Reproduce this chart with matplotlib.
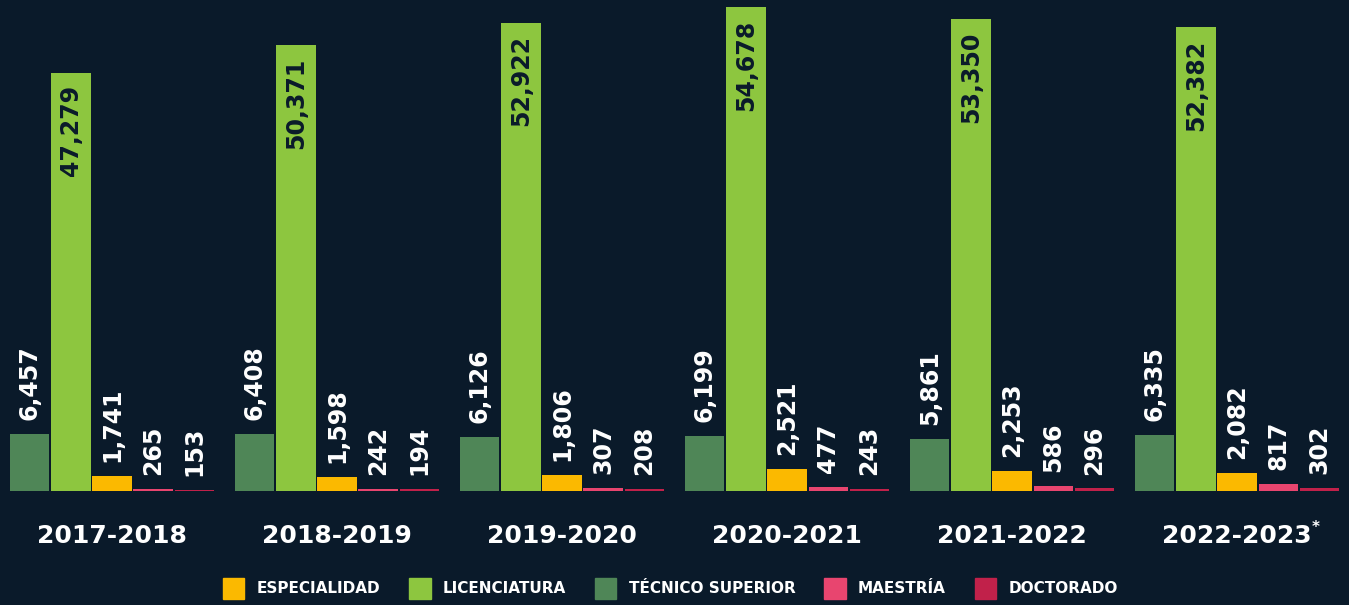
# Matrícula por nivel educativo, ciclos 2017-2018 a 2022-2023

import matplotlib.pyplot as plt
from matplotlib.patches import Patch
import numpy as np

ciclos = ['2017-2018', '2018-2019', '2019-2020', '2020-2021', '2021-2022', '2022-2023']
tecnico = [6457, 6408, 6126, 6199, 5861, 6335]
licenciatura = [47279, 50371, 52922, 54678, 53350, 52382]
especialidad = [1741, 1598, 1806, 2521, 2253, 2082]
maestria = [265, 242, 307, 477, 586, 817]
doctorado = [153, 194, 208, 243, 296, 302]

fondo = '#0a1a2a'
colores = {
    'ESPECIALIDAD': '#fbb900',
    'LICENCIATURA': '#8dc63f',
    'TÉCNICO SUPERIOR': '#4f8657',
    'MAESTRÍA': '#e8456f',
    'DOCTORADO': '#c1214a',
}

# orden de las barras dentro de cada grupo
series = [
    (tecnico, 'TÉCNICO SUPERIOR'),
    (licenciatura, 'LICENCIATURA'),
    (especialidad, 'ESPECIALIDAD'),
    (maestria, 'MAESTRÍA'),
    (doctorado, 'DOCTORADO'),
]

fig = plt.figure(figsize=(13.49, 6.05), dpi=100, facecolor=fondo)
ax = fig.add_axes([0, 0.1884, 1, 0.8116])
ax.set_facecolor(fondo)

paso = 5.461
centros = np.arange(len(ciclos)) * paso

for j, (valores, nombre) in enumerate(series):
    xs = centros + (j - 2)
    barras = ax.bar(xs, valores, width=0.96, color=colores[nombre], zorder=2)
    for b, v in zip(barras, valores):
        x = b.get_x() + b.get_width() / 2
        if nombre == 'LICENCIATURA':
            ax.annotate(f'{v:,}', (x, v), xytext=(0, -9), textcoords='offset points',
                        rotation=90, ha='center', va='top', color=fondo,
                        fontsize=17, fontweight='bold')
        else:
            ax.annotate(f'{v:,}', (x, v), xytext=(0, 10), textcoords='offset points',
                        rotation=90, ha='center', va='bottom', color='white',
                        fontsize=17, fontweight='bold')

ax.set_xlim(-2.718, 30.02)
ax.set_ylim(0, 55470)
ax.set_yticks([])
ax.set_xticks(centros)
ax.set_xticklabels(ciclos, color='white', fontsize=18, fontweight='bold')
ax.tick_params(axis='x', length=0, pad=24)
for s in ax.spines.values():
    s.set_visible(False)

# asterisco del último ciclo
ultimo = ax.get_xticklabels()[-1]
ax.annotate('*', xy=(1, 1), xycoords=ultimo, xytext=(0, 3), textcoords='offset points',
            ha='left', va='top', color='white', fontsize=11, fontweight='bold')

orden = ['ESPECIALIDAD', 'LICENCIATURA', 'TÉCNICO SUPERIOR', 'MAESTRÍA', 'DOCTORADO']
handles = [Patch(color=colores[n], label=n) for n in orden]
leg = fig.legend(handles=handles, loc='lower center', bbox_to_anchor=(0.497, -0.012),
                 ncol=5, frameon=False, fontsize=11, handlelength=1.4,
                 handleheight=1.7, handletextpad=0.8, columnspacing=1.9)
for t in leg.get_texts():
    t.set_color('white')
    t.set_fontweight('bold')

plt.savefig('out.png', dpi=100, facecolor=fondo)
